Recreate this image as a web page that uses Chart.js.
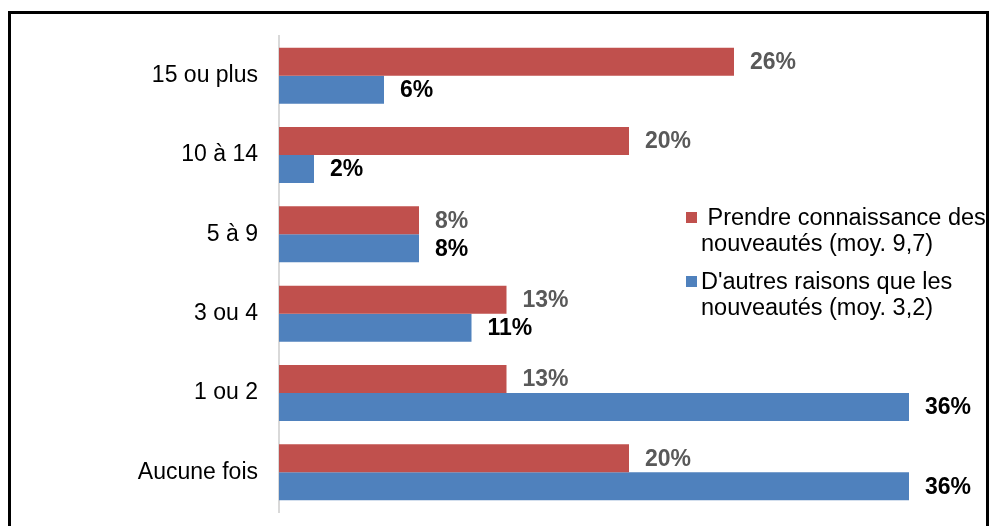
<!DOCTYPE html>
<html>
<head>
<meta charset="utf-8">
<script src="https://cdn.jsdelivr.net/npm/chart.js@4"></script>
<style>
  body { margin: 0; background: #fff; }
  #wrap { position: relative; width: 991px; height: 526px; overflow: hidden; }
  #frame { position: absolute; left: 8px; top: 11px; width: 981px; height: 540px; border: 3px solid #000; box-sizing: border-box; }
  canvas { position: absolute; left: 0; top: 0; }
</style>
</head>
<body>
<div id="wrap">
  <div id="frame"></div>
  <canvas id="myChart" width="991" height="526"></canvas>
</div>
<script>
// categories and values (%)
const categories = ['15 ou plus', '10 à 14', '5 à 9', '3 ou 4', '1 ou 2', 'Aucune fois'];
const nouveautes = [26, 20, 8, 13, 13, 20];
const autres = [6, 2, 8, 11, 36, 36];
const seriesNames = [' Prendre connaissance des|nouveautés (moy. 9,7)', "D'autres raisons que les|nouveautés (moy. 3,2)"];

const labelColors = ['#595959', '#000000'];
const FONT = '"Liberation Sans", Arial, sans-serif';

// valeurs au bout des barres
const barLabels = {
  id: 'barLabels',
  afterDatasetsDraw(chart) {
    const ctx = chart.ctx;
    ctx.save();
    ctx.font = 'bold 23px ' + FONT;
    ctx.textBaseline = 'middle';
    ctx.textAlign = 'left';
    chart.data.datasets.forEach((ds, i) => {
      ctx.fillStyle = labelColors[i];
      chart.getDatasetMeta(i).data.forEach((bar, j) => {
        ctx.fillText(ds.data[j] + '%', bar.x + 16, bar.y + 1);
      });
    });
    ctx.restore();
  }
};

// légende à droite, sur deux lignes
const sideLegend = {
  id: 'sideLegend',
  afterDraw(chart) {
    const ctx = chart.ctx;
    ctx.save();
    ctx.font = '23.5px ' + FONT;
    ctx.textBaseline = 'middle';
    const tops = [219, 283];
    chart.data.datasets.forEach((ds, i) => {
      const y = tops[i];
      ctx.fillStyle = ds.backgroundColor;
      ctx.fillRect(686, y - 7, 11, 11);
      ctx.fillStyle = '#000';
      seriesNames[i].split('|').forEach((line, k) => {
        ctx.fillText(line, 701, y + k * 26);
      });
    });
    ctx.restore();
  }
};

new Chart(document.getElementById('myChart'), {
  type: 'bar',
  data: {
    labels: categories,
    datasets: [
      { data: nouveautes, backgroundColor: '#C0504D' },
      { data: autres, backgroundColor: '#4F81BD' }
    ]
  },
  options: {
    indexAxis: 'y',
    responsive: false,
    animation: false,
    categoryPercentage: 0.706,
    barPercentage: 1,
    layout: { padding: { left: 0, right: 82, top: 36, bottom: 14 } },
    plugins: { legend: { display: false }, tooltip: { enabled: false } },
    scales: {
      x: { display: false, min: 0, max: 36 },
      y: {
        afterFit(s) { s.width = 279; s.paddingTop = 0; s.paddingBottom = 0; },
        grid: { display: false, drawTicks: false },
        border: { display: true, color: '#d9d9d9', width: 2 },
        ticks: { color: '#000', padding: 21, font: { size: 23, family: FONT } }
      }
    }
  },
  plugins: [barLabels, sideLegend]
});
</script>
</body>
</html>
